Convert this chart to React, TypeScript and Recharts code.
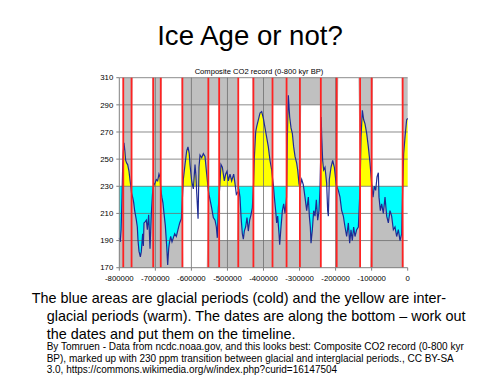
import React from "react";
import {
  ComposedChart,
  Area,
  Line,
  XAxis,
  YAxis,
  ReferenceLine,
  ReferenceArea,
} from "recharts";

// CO2 record (years before present, ppm)
const years = [
  -800000, -797500, -795000, -792500, -790500, -789000, -787000, -784500, -782300, -779500,
  -776800, -773100, -770000, -768000, -766000, -763000, -760000, -757400, -754600, -752700,
  -750000, -748100, -745300, -741600, -738900, -735200, -733300, -731500, -727800, -725000,
  -722200, -718500, -714800, -711100, -708000, -706000, -703700, -700000, -697300, -693600,
  -689900, -687100, -685000, -682000, -679000, -676000, -672300, -668600, -665800, -663000,
  -661200, -657500, -653800, -650100, -646400, -641800, -637200, -632500, -627900, -625000,
  -622400, -617700, -613100, -609500, -606000, -603900, -599300, -594600, -590000, -587500,
  -585000, -581500, -578900, -576100, -571500, -566900, -562300, -557600, -553000, -551200,
  -547500, -543800, -539200, -534500, -530800, -528100, -525300, -523000, -521600, -517900,
  -514200, -511400, -508600, -504900, -501200, -497500, -492900, -488300, -482700, -479000,
  -475300, -470000, -468000, -465200, -462400, -458700, -455900, -453200, -449500, -445800,
  -442100, -438400, -434700, -431000, -428000, -425400, -421700, -418900, -414300, -409700,
  -405100, -400400, -395800, -391200, -386600, -382000, -377300, -375000, -372700, -369900,
  -366200, -363500, -360700, -357000, -355100, -351400, -347700, -344000, -340300, -336000,
  -333900, -331100, -327400, -323700, -320000, -316300, -312600, -308000, -305200, -301500,
  -299000, -294100, -289500, -284900, -280200, -275600, -272800, -270100, -268200, -264500,
  -260800, -257100, -253400, -249700, -246000, -243300, -241000, -240000, -238600, -235900,
  -233100, -229400, -224800, -222000, -220100, -217400, -212700, -208100, -203500, -199800,
  -197000, -192400, -187800, -183100, -178500, -173900, -169300, -164600, -161000, -157300,
  -153600, -149900, -146200, -141500, -136900, -132000, -129500, -125800, -122100, -118400,
  -113800, -109200, -104500, -100000, -96200, -92500, -88800, -85100, -81400, -79600,
  -75900, -72200, -67600, -62900, -58300, -53700, -49100, -44500, -39800, -35200,
  -30600, -26000, -21300, -16700, -14000, -11200, -7500, -2900, 0,
];

const co2ppm = [
  192, 189, 198, 222, 246, 255, 262, 256, 249, 247,
  246, 241, 234, 230, 225, 222, 218, 212, 208, 205,
  200, 190, 182, 178, 182, 195, 186, 203, 204, 205,
  198, 209, 184, 210, 224, 229, 231, 233, 235, 234,
  239, 237, 228, 222, 218, 210, 201, 186, 172, 184,
  188, 193, 189, 192, 195, 193, 198, 203, 206, 221,
  235, 246, 256, 259, 254, 246, 234, 228, 246, 238,
  224, 206, 244, 253, 251, 254, 252, 239, 227, 224,
  219, 214, 207, 205, 200, 192, 214, 223, 229, 246,
  244, 239, 234, 239, 241, 234, 239, 234, 239, 232,
  224, 226, 227, 222, 208, 195, 191, 197, 200, 207,
  197, 205, 209, 214, 229, 251, 270, 274, 279, 284,
  285, 280, 273, 266, 259, 249, 242, 236, 231, 222,
  212, 203, 208, 195, 187, 200, 212, 217, 210, 222,
  266, 297, 281, 273, 269, 259, 252, 247, 242, 232,
  229, 235, 231, 222, 212, 222, 208, 200, 188, 198,
  212, 208, 220, 205, 212, 228, 255, 281, 267, 249,
  242, 244, 232, 212, 208, 235, 244, 249, 244, 235,
  230, 227, 222, 212, 208, 200, 193, 203, 188, 198,
  190, 200, 193, 198, 200, 230, 266, 286, 279, 276,
  269, 259, 247, 232, 222, 230, 227, 237, 240, 222,
  212, 217, 210, 222, 208, 203, 212, 208, 198, 200,
  193, 198, 190, 195, 228, 254, 266, 279, 280,
];

// red marker lines drawn on the chart (glacial / interglacial edges)
const redLines = [
  -789000, -766000, -706000, -685000, -625000, -553000, -523000, -470000, -428000,
  -375000, -336000, -299000, -241000, -197000, -132000, -100000, -14000,
];

// spans between the red lines that are painted yellow (warm)
const interglacials = [
  [-789000, -766000], [-706000, -685000], [-625000, -553000], [-523000, -470000],
  [-428000, -375000], [-336000, -299000], [-241000, -197000], [-132000, -100000],
  [-14000, 0],
];

// narrow warm spans that are shaded grey top to bottom
const fullGray = [[-789000, -766000], [-706000, -685000]];
// extra grey strips from the original plot
const topGray = [[-553000, -523000], [-375000, -336000], [-299000, -241000]];
const bottomGray = [[-523000, -470000], [-428000, -375000], [-336000, -299000]];

const yTicks = [170, 190, 210, 230, 250, 270, 290, 310];
const xTicks = [-800000, -700000, -600000, -500000, -400000, -300000, -200000, -100000, 0];

const CUT = 230;
const Y_MIN = 170;
const Y_MAX = 310;

const GRAY = "#c0c0c0";
const GRAY_LOW = "#bfbfbf";
const YELLOW = "#ffff00";
const CYAN = "#00ffff";
const FONT = '"Liberation Sans", Arial, sans-serif';

function inSpan(spans: number[][], x: number) {
  return spans.some(([a, b]) => x >= a && x <= b);
}

// cold spans = gaps between the warm ones, plus the two narrow grey columns
const glacials: number[][] = [];
let from = -800000;
interglacials.forEach(([a, b]) => {
  if (a > from) glacials.push([from, a]);
  from = b;
});
if (from < 0) glacials.push([from, 0]);
fullGray.forEach((s) => glacials.push(s));

// every band is defined on every row (zero height where it does not apply)
const data = years.map((year, i) => {
  const v = co2ppm[i];
  const warm = inSpan(interglacials, year);
  const cold = inSpan(glacials, year);
  const hi = Math.max(v, CUT);
  const lo = Math.min(v, CUT);
  return {
    year,
    co2: v,
    grayAbove: warm ? [hi, Y_MAX] : [Y_MAX, Y_MAX],
    yellow: warm ? [CUT, hi] : [CUT, CUT],
    cyan: cold ? [lo, CUT] : [CUT, CUT],
    grayBelow: cold ? [Y_MIN, lo] : [Y_MIN, Y_MIN],
  };
});

// place a line of text by its baseline
function TextLine({ text, x, baseline, size, center }: any) {
  return (
    <div
      style={{
        position: "absolute",
        left: center ? 0 : x,
        width: center ? 500 : undefined,
        textAlign: center ? "center" : "left",
        top: baseline - 0.8465 * size,
        fontSize: size,
        lineHeight: `${size}px`,
        whiteSpace: "nowrap",
        color: "#000",
      }}
    >
      {text}
    </div>
  );
}

export default function App() {
  const tick = { fontSize: 7.8, fill: "#000", fontFamily: FONT };
  return (
    <div
      style={{
        position: "absolute",
        left: 0,
        top: 0,
        width: 500,
        height: 375,
        background: "#fff",
        overflow: "hidden",
        fontFamily: FONT,
      }}
    >
      <TextLine text="Ice Age or not?" baseline={45.5} size={27.6} center />

      <div style={{ position: "absolute", left: 0, top: 0 }}>
        <ComposedChart
          width={500}
          height={300}
          data={data}
          margin={{ top: 77.7, right: 92.3, bottom: 12.3, left: 89.3 }}
        >
          <XAxis
            dataKey="year"
            type="number"
            domain={[-800000, 0]}
            ticks={xTicks}
            interval={0}
            height={20}
            tick={tick}
            tickSize={3}
            tickMargin={5}
            stroke="#808080"
          />
          <YAxis
            type="number"
            domain={[Y_MIN, Y_MAX]}
            ticks={yTicks}
            interval={0}
            width={30}
            tick={tick}
            tickSize={3}
            tickMargin={3}
            stroke="#808080"
            allowDataOverflow
          />
          {glacials.map(([a, b]) => (
            <ReferenceArea key={`g${a}`} x1={a} x2={b} y1={Y_MIN} y2={CUT} fill={GRAY_LOW} fillOpacity={1} stroke="none" />
          ))}
          {topGray.map(([a, b]) => (
            <ReferenceArea key={`t${a}`} x1={a} x2={b} y1={290} y2={Y_MAX} fill={GRAY} fillOpacity={1} stroke="none" />
          ))}
          {bottomGray.map(([a, b]) => (
            <ReferenceArea key={`b${a}`} x1={a} x2={b} y1={Y_MIN} y2={190} fill={GRAY} fillOpacity={1} stroke="none" />
          ))}
          <Area type="linear" dataKey="grayBelow" fill={GRAY_LOW} fillOpacity={1} stroke="none" isAnimationActive={false} />
          <Area type="linear" dataKey="grayAbove" fill={GRAY} fillOpacity={1} stroke="none" isAnimationActive={false} />
          <Area type="linear" dataKey="yellow" fill={YELLOW} fillOpacity={1} stroke="none" isAnimationActive={false} />
          <Area type="linear" dataKey="cyan" fill={CYAN} fillOpacity={1} stroke="none" isAnimationActive={false} />
          {yTicks.slice(1).map((y) => (
            <ReferenceLine key={`gy${y}`} y={y} stroke="#6e6e6e" strokeWidth={0.8} />
          ))}
          {xTicks.slice(1, -1).map((x) => (
            <ReferenceLine key={`gx${x}`} x={x} stroke="#6e6e6e" strokeWidth={0.8} />
          ))}
          <Line
            type="linear"
            dataKey="co2"
            stroke="#1e2b94"
            strokeWidth={1.2}
            dot={false}
            activeDot={false}
            isAnimationActive={false}
          />
          {redLines.map((x) => (
            <ReferenceLine key={`r${x}`} x={x} stroke="#ff2222" strokeWidth={1.8} />
          ))}
        </ComposedChart>
      </div>

      <div
        style={{
          position: "absolute",
          left: 209,
          width: 100,
          top: 74 - 0.8465 * 7.6,
          fontSize: 7.6,
          lineHeight: "7.6px",
          whiteSpace: "nowrap",
          display: "flex",
          justifyContent: "center",
        }}
      >
        Composite CO2 record (0-800 kyr BP)
      </div>

      <TextLine text="The blue areas are glacial periods (cold) and the yellow are inter-" x={31.7} baseline={303} size={14.4} />
      <TextLine text="glacial periods (warm). The dates are along the bottom – work out" x={46.7} baseline={321.5} size={14.4} />
      <TextLine text="the dates and put them on the timeline." x={46.7} baseline={339.5} size={14.4} />
      <TextLine
        text="By Tomruen - Data from ncdc.noaa.gov, and this looks best: Composite CO2 record (0-800 kyr"
        x={46.7}
        baseline={350.5}
        size={10}
      />
      <TextLine
        text="BP), marked up with 230 ppm transition between glacial and interglacial periods., CC BY-SA"
        x={46.7}
        baseline={362}
        size={10}
      />
      <TextLine
        text="3.0, https://commons.wikimedia.org/w/index.php?curid=16147504"
        x={46.7}
        baseline={373.2}
        size={10}
      />
    </div>
  );
}
